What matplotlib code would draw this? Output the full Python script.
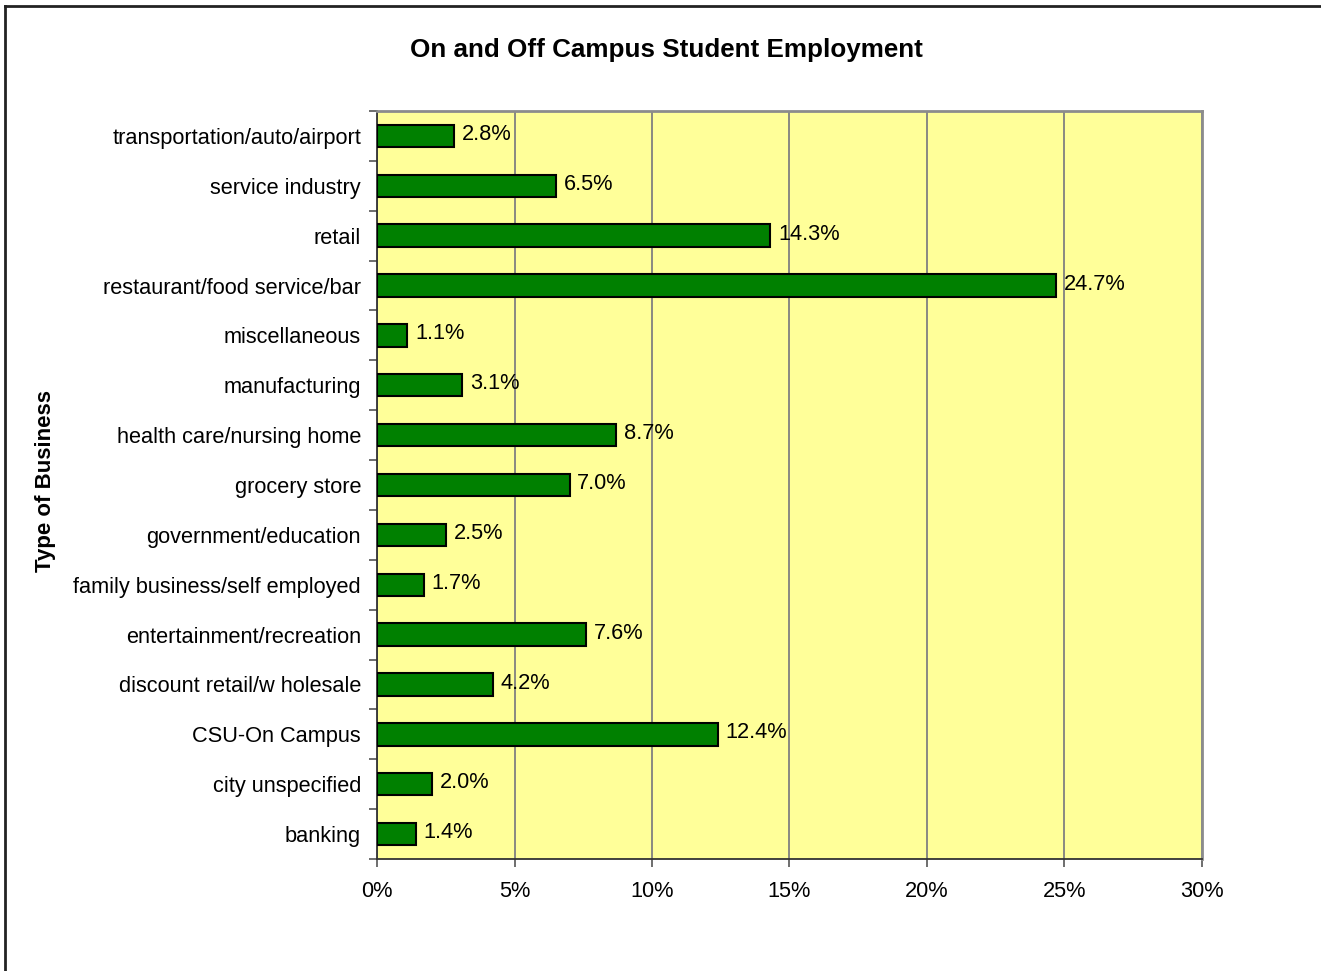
import matplotlib
matplotlib.use("Agg")
import matplotlib.pyplot as plt
from matplotlib.lines import Line2D
from matplotlib.ticker import FuncFormatter

plt.rcParams['font.family'] = ['Liberation Sans', 'DejaVu Sans']

# categories listed bottom to top
categories = [
    "banking", "city unspecified", "CSU-On Campus", "discount retail/w holesale",
    "entertainment/recreation", "family business/self employed",
    "government/education", "grocery store", "health care/nursing home",
    "manufacturing", "miscellaneous", "restaurant/food service/bar",
    "retail", "service industry", "transportation/auto/airport",
]
shares = [1.4, 2.0, 12.4, 4.2, 7.6, 1.7, 2.5, 7.0, 8.7, 3.1, 1.1, 24.7, 14.3, 6.5, 2.8]
x_ticks = [0, 5, 10, 15, 20, 25, 30]

fs = 15.7

fig = plt.figure(figsize=(13.21, 9.71), dpi=100)
ax = fig.add_axes([0.2854, 0.1153, 0.6245, 0.7704])
ax.set_facecolor("#ffff99")

pos = list(range(len(categories)))
ax.barh(pos, shares, height=0.45, color="#008000", edgecolor="black",
        linewidth=1.5, zorder=3)
for p, v in zip(pos, shares):
    ax.text(v + 0.28, p + 0.03, f"{v:.1f}%", va="center", ha="left",
            fontsize=fs, zorder=4)

ax.set_xlim(0, 30)
ax.set_ylim(-0.5, len(categories) - 0.5)
ax.set_xticks(x_ticks)
ax.xaxis.set_major_formatter(FuncFormatter(lambda v, _: f"{v:.0f}%"))
ax.set_yticks(pos)
ax.set_yticklabels(categories)
ax.set_yticks([p - 0.5 for p in pos] + [len(categories) - 0.5], minor=True)
ax.tick_params(axis="y", which="major", length=0, pad=11.5, labelsize=fs)
ax.tick_params(axis="y", which="minor", length=6, width=1.2, color="#555555")
ax.tick_params(axis="x", length=6, width=1.2, color="#555555", pad=10,
               labelsize=fs)
ax.grid(axis="x", color="#808080", linewidth=1.3, zorder=1)

for side in ("top", "right"):
    ax.spines[side].set_color("#8c8c8c")
    ax.spines[side].set_linewidth(2)
for side in ("left", "bottom"):
    ax.spines[side].set_color("#333333")
    ax.spines[side].set_linewidth(1.3)

fig.text(0.5047, 0.949, "On and Off Campus Student Employment", ha="center",
         va="center", fontsize=18.7, fontweight="bold")
fig.text(0.0345, 0.505, "Type of Business", rotation=90, ha="center",
         va="center", fontsize=16, fontweight="bold")

# chart frame along the left and top edges
fig.add_artist(Line2D([0.004, 0.004], [0, 0.9935], transform=fig.transFigure,
                      color="#222222", linewidth=2))
fig.add_artist(Line2D([0.004, 1], [0.9935, 0.9935], transform=fig.transFigure,
                      color="#222222", linewidth=2))

fig.savefig("out.png", dpi=100)
